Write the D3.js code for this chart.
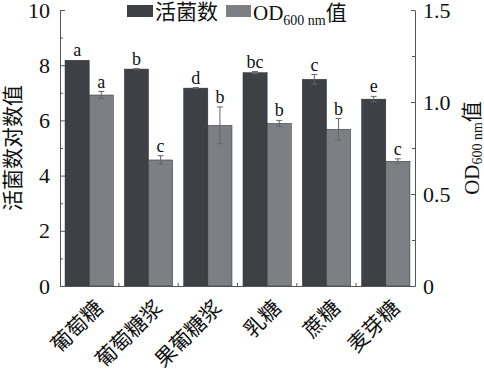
<!DOCTYPE html>
<html>
<head>
<meta charset="utf-8">
<script src="https://cdn.jsdelivr.net/npm/d3@7"></script>
<style>
  body { margin: 0; background: #fff; }
  text { fill: #111; }
</style>
</head>
<body>
<svg id="chart" width="484" height="371"></svg>
<script>
// data
const categories = ["葡萄糖", "葡萄糖浆", "果葡糖浆", "乳糖", "蔗糖", "麦芽糖"];
const viable = [8.18, 7.86, 7.17, 7.73, 7.49, 6.77];
const viableErr = [0.0, 0.02, 0.02, 0.04, 0.17, 0.10];
const viableLetters = ["a", "b", "d", "bc", "c", "e"];
const od = [1.038, 0.685, 0.873, 0.884, 0.852, 0.678];
const odErr = [0.019, 0.023, 0.100, 0.016, 0.058, 0.013];
const odLetters = ["a", "c", "b", "b", "b", "c"];
const leftTicks = [0, 2, 4, 6, 8, 10];
const rightTicks = [0, 0.5, 1.0, 1.5];

const serif = "'Liberation Serif', 'Times New Roman', serif";
const cjk = "'Noto Sans CJK SC', sans-serif";
const darkColor = "#3f4045", lightColor = "#7e7f84", axisColor = "#555";

let svg = d3.select("#chart");
let plotLeft = 60, plotRight = 415, plotTop = 10, plotBottom = 286;

let x = d3.scaleBand().domain(categories).range([plotLeft, plotRight]).paddingInner(0.185).paddingOuter(0.085);
let xSub = d3.scaleBand().domain(["viable", "od"]).range([0, x.bandwidth()]);
let yL = d3.scaleLinear().domain([0, 10]).range([plotBottom, plotTop]);
let yR = d3.scaleLinear().domain([0, 1.5]).range([plotBottom, plotTop]);

// rows joining both series
let rows = categories.map((c, i) => [
  { cat: c, key: "viable", v: viable[i], e: viableErr[i], l: viableLetters[i], y: yL, color: darkColor },
  { cat: c, key: "od", v: od[i], e: odErr[i], l: odLetters[i], y: yR, color: lightColor }
]).flat();

// bars
svg.append("g").selectAll("rect")
  .data(rows)
  .join("rect")
  .attr("x", d => x(d.cat) + xSub(d.key))
  .attr("y", d => d.y(d.v))
  .attr("width", xSub.bandwidth())
  .attr("height", d => plotBottom - d.y(d.v))
  .attr("fill", d => d.color)
  .attr("stroke", "#2e2f33")
  .attr("stroke-width", 0.5);

// error bars
let err = svg.append("g").attr("stroke", "#666").attr("stroke-width", 1);
rows.filter(d => d.e > 0).forEach(d => {
  let cx = x(d.cat) + xSub(d.key) + xSub.bandwidth() / 2;
  err.append("line").attr("x1", cx).attr("x2", cx).attr("y1", d.y(d.v + d.e)).attr("y2", d.y(d.v - d.e));
  err.append("line").attr("x1", cx - 3).attr("x2", cx + 3).attr("y1", d.y(d.v + d.e)).attr("y2", d.y(d.v + d.e));
  err.append("line").attr("x1", cx - 3).attr("x2", cx + 3).attr("y1", d.y(d.v - d.e)).attr("y2", d.y(d.v - d.e));
});

// significance letters
svg.append("g").selectAll("text")
  .data(rows)
  .join("text")
  .attr("x", d => x(d.cat) + xSub(d.key) + xSub.bandwidth() / 2)
  .attr("y", d => d.y(d.v + d.e) - 4)
  .attr("text-anchor", "middle")
  .style("font-family", serif)
  .style("font-size", "18px")
  .text(d => d.l);

// left axis
let axL = svg.append("g").attr("transform", `translate(${plotLeft},0)`)
  .call(d3.axisLeft(yL).tickValues(leftTicks).tickSizeInner(-5).tickSizeOuter(0).tickPadding(10).tickFormat(d3.format("d")));
axL.selectAll(".tick text").style("font-family", serif).style("font-size", "22px");
svg.append("g").attr("transform", `translate(${plotLeft},0)`)
  .call(d3.axisLeft(yL).tickValues([1, 3, 5, 7, 9]).tickSizeInner(-3).tickSizeOuter(0).tickFormat(""))
  .select(".domain").remove();

// right axis
let axR = svg.append("g").attr("transform", `translate(${plotRight},0)`)
  .call(d3.axisRight(yR).tickValues(rightTicks).tickSizeInner(-4).tickSizeOuter(0).tickPadding(8)
    .tickFormat(d => d === 0 ? "0" : d3.format(".1f")(d)));
axR.selectAll(".tick text").style("font-family", serif).style("font-size", "22px");
svg.append("g").attr("transform", `translate(${plotRight},0)`)
  .call(d3.axisRight(yR).tickValues([0.25, 0.75, 1.25]).tickSizeInner(-3).tickSizeOuter(0).tickFormat(""))
  .select(".domain").remove();

// bottom axis
let axB = svg.append("g").attr("transform", `translate(0,${plotBottom})`)
  .call(d3.axisBottom(x).tickSize(0).tickFormat(""));
// small ticks between groups
let gaps = categories.slice(1).map(c => x(c) - x.step() * x.paddingInner() / 2);
axB.selectAll(".gap").data(gaps).join("line")
  .attr("x1", d => d).attr("x2", d => d).attr("y1", 0).attr("y2", -3).attr("stroke", axisColor);

svg.selectAll(".domain").attr("stroke", axisColor);
svg.selectAll(".tick line").attr("stroke", axisColor);

// category labels
svg.append("g").selectAll("text")
  .data(categories)
  .join("text")
  .attr("transform", d => `translate(${x(d) + x.bandwidth() / 2 + 10},${plotBottom + 18}) rotate(-45)`)
  .attr("text-anchor", "end")
  .attr("dy", "0.35em")
  .style("font-family", cjk)
  .style("font-size", "21px")
  .text(d => d);

// axis titles
svg.append("text")
  .attr("transform", `translate(13,${(plotTop + plotBottom) / 2}) rotate(-90)`)
  .attr("text-anchor", "middle")
  .attr("dy", "0.35em")
  .style("font-family", cjk)
  .style("font-size", "21px")
  .text("活菌数对数值");

let rt = svg.append("text")
  .attr("transform", `translate(479,${(plotTop + plotBottom) / 2}) rotate(-90)`)
  .attr("text-anchor", "middle")
  .style("font-size", "21px");
rt.append("tspan").style("font-family", serif).text("OD");
rt.append("tspan").style("font-family", serif).style("font-size", "14px").attr("dy", 3).text("600 nm");
rt.append("tspan").style("font-family", cjk).attr("dy", -3).text("值");

// legend
let legend = svg.append("g");
legend.append("rect").attr("x", 127).attr("y", 5).attr("width", 26).attr("height", 12).attr("fill", darkColor);
legend.append("text").attr("x", 155).attr("y", 19).style("font-family", cjk).style("font-size", "21px").text("活菌数");
legend.append("rect").attr("x", 226).attr("y", 5).attr("width", 25).attr("height", 12).attr("fill", lightColor);
let lt = legend.append("text").attr("x", 253).attr("y", 20).style("font-size", "21px");
lt.append("tspan").style("font-family", serif).text("OD");
lt.append("tspan").style("font-family", serif).style("font-size", "14px").attr("dy", 5).text("600 nm");
lt.append("tspan").style("font-family", cjk).attr("dy", -5).text("值");
</script>
</body>
</html>
